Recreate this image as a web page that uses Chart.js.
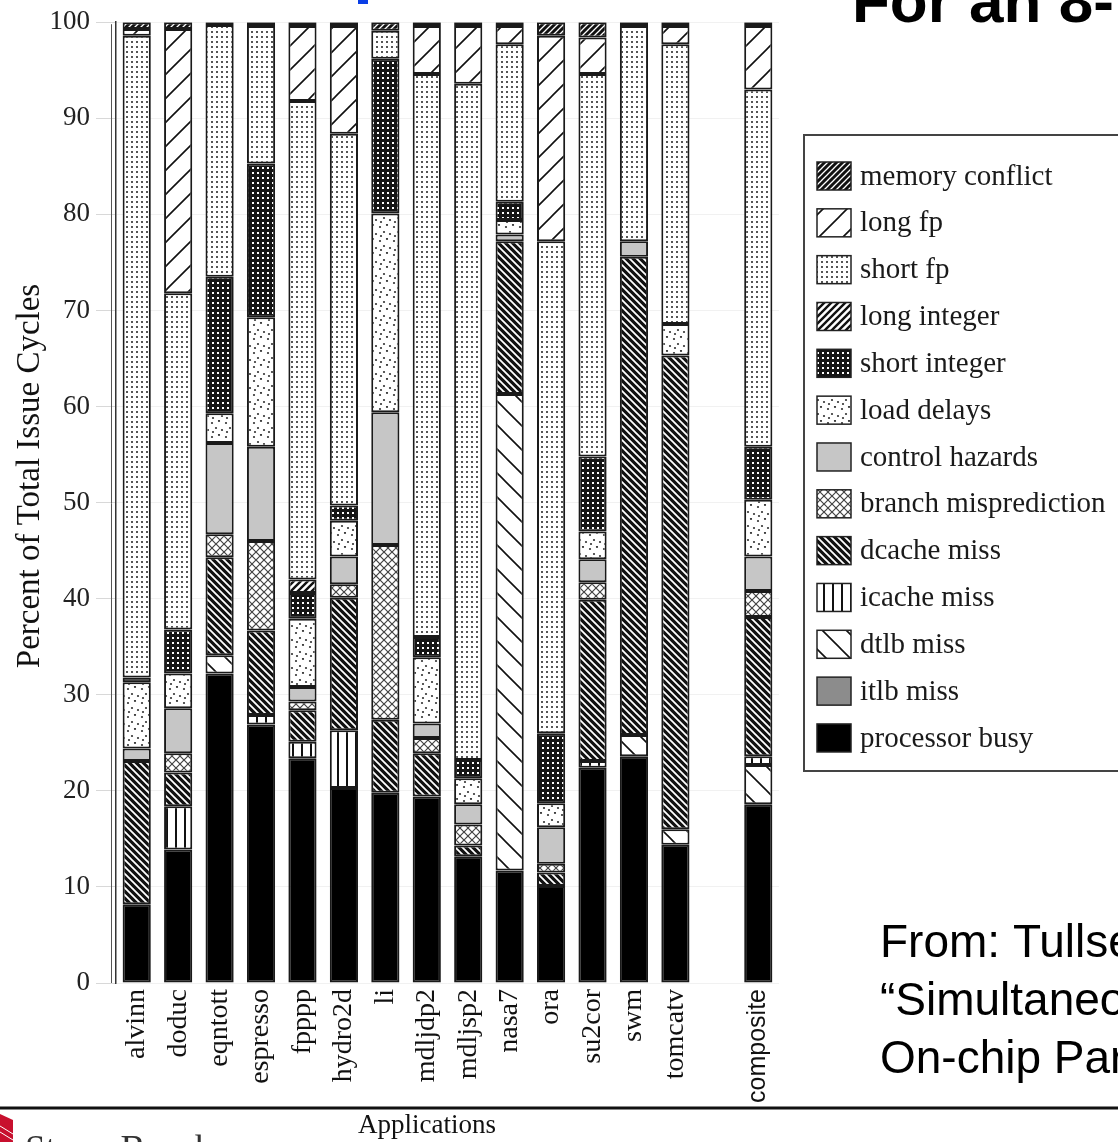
<!DOCTYPE html>
<html>
<head>
<meta charset="utf-8">
<script src="https://cdn.jsdelivr.net/npm/chart.js@4/dist/chart.umd.min.js"></script>
<style>
  body { margin: 0; background: #fff; overflow: hidden; }
  #wrap { width: 1118px; height: 1142px; }
</style>
</head>
<body>
<div id="wrap"><canvas id="stage" width="1118" height="1142"></canvas></div>
<script>
// categories (empty slot keeps the gap before composite)
var apps = ['alvinn','doduc','eqntott','espresso','fpppp','hydro2d','li','mdljdp2','mdljsp2','nasa7','ora','su2cor','swm','tomcatv','','composite'];

// percent of issue cycles, bottom of the stack first
var processorBusy = [8.2, 13.9, 32.2, 26.9, 23.4, 20.3, 19.8, 19.4, 13.2, 11.7, 10.1, 22.4, 23.6, 14.4, null, 18.6];
var itlbMiss      = [0, 0, 0, 0, 0, 0, 0, 0, 0, 0, 0, 0, 0, 0, null, 0];
var dtlbMiss      = [0, 0, 1.9, 0, 0, 0, 0, 0, 0, 49.6, 0, 0, 2.2, 1.6, null, 4.1];
var icacheMiss    = [0, 4.5, 0, 1.0, 1.7, 6.0, 0, 0, 0, 0, 0, 0.7, 0, 0, null, 0.9];
var dcacheMiss    = [14.9, 3.5, 10.2, 8.8, 3.3, 13.8, 7.6, 4.5, 1.1, 15.9, 1.4, 16.8, 49.8, 49.3, null, 14.5];
var branchMisp    = [0, 2.0, 2.4, 9.3, 0.9, 1.4, 18.2, 1.6, 2.2, 0, 0.9, 1.8, 0, 0, null, 2.7];
var controlHaz    = [1.3, 4.7, 9.5, 9.8, 1.5, 2.9, 13.8, 1.5, 2.1, 0.7, 3.8, 2.4, 1.6, 0, null, 3.6];
var loadDelays    = [6.9, 3.6, 3.1, 13.5, 7.1, 3.7, 20.7, 6.9, 2.7, 1.5, 2.5, 2.9, 0, 3.3, null, 5.9];
var shortInt      = [0.5, 4.6, 14.2, 16.0, 2.7, 1.6, 16.1, 2.1, 1.9, 1.9, 7.3, 7.8, 0, 0, null, 5.5];
var longInt       = [0, 0, 0, 0, 1.4, 0, 0, 0, 0, 0, 0, 0, 0, 0, null, 0];
var shortFp       = [66.8, 35.0, 26.2, 14.3, 49.8, 38.7, 2.9, 58.6, 70.4, 16.4, 51.2, 39.8, 22.4, 29.1, null, 37.2];
var longFp        = [0.7, 27.5, 0, 0, 7.8, 11.2, 0, 5.0, 6.0, 1.9, 21.4, 3.8, 0, 1.9, null, 6.6];
var memConflict   = [0.7, 0.7, 0.3, 0.4, 0.4, 0.4, 0.9, 0.4, 0.4, 0.4, 1.4, 1.6, 0.4, 0.4, null, 0.4];

var yTicks = [0, 10, 20, 30, 40, 50, 60, 70, 80, 90, 100];

var serif = "'Liberation Serif', 'Times New Roman', serif";
var sans = "'Liberation Sans', Arial, sans-serif";

// --- fill patterns ---
function tile(size, draw) {
   var c = document.createElement('canvas');
   c.width = size; c.height = size;
   var x = c.getContext('2d');
   draw(x, size);
   return x.createPattern(c, 'repeat');
}
function slash(x, s, color, w) {   // "/" lines
   x.strokeStyle = color; x.lineWidth = w; x.beginPath();
   x.moveTo(-1, s + 1); x.lineTo(s + 1, -1);
   x.moveTo(-s / 2, s / 2); x.lineTo(s / 2, -s / 2);
   x.moveTo(s / 2, s * 1.5); x.lineTo(s * 1.5, s / 2);
   x.stroke();
}
function back(x, s, color, w) {    // "\" lines
   x.strokeStyle = color; x.lineWidth = w; x.beginPath();
   x.moveTo(-1, -1); x.lineTo(s + 1, s + 1);
   x.moveTo(s / 2, -s / 2); x.lineTo(s * 1.5, s / 2);
   x.moveTo(-s / 2, s / 2); x.lineTo(s / 2, s * 1.5);
   x.stroke();
}

var pMem = tile(6, function(x, s){ x.fillStyle = '#111'; x.fillRect(0,0,s,s); slash(x, s, '#fff', 1.3); });
var pLongFp = tile(24, function(x, s){ x.fillStyle = '#fff'; x.fillRect(0,0,s,s); slash(x, s, '#111', 1.6); });
var pShortFp = tile(5, function(x, s){ x.fillStyle = '#fff'; x.fillRect(0,0,s,s); x.fillStyle = '#555'; x.fillRect(1,1,2,2); });
var pLongInt = tile(7, function(x, s){ x.fillStyle = '#fff'; x.fillRect(0,0,s,s); slash(x, s, '#111', 2.4); });
var pShortInt = tile(5, function(x, s){ x.fillStyle = '#151515'; x.fillRect(0,0,s,s); x.fillStyle = '#fff'; x.fillRect(2,2,2,2); });
var pLoad = tile(14, function(x, s){
   x.fillStyle = '#fff'; x.fillRect(0,0,s,s); x.fillStyle = '#333';
   [[2,3],[9,1],[6,8],[12,10],[3,12]].forEach(function(d){ x.beginPath(); x.arc(d[0], d[1], 1.1, 0, Math.PI*2); x.fill(); });
});
var pBranch = tile(8, function(x, s){
   x.fillStyle = '#fff'; x.fillRect(0,0,s,s);
   slash(x, s, '#444', 1.2); back(x, s, '#444', 1.2);
});
var pDcache = tile(7, function(x, s){ x.fillStyle = '#111'; x.fillRect(0,0,s,s); back(x, s, '#fff', 1.8); });
var pIcache = tile(9, function(x, s){ x.fillStyle = '#fff'; x.fillRect(0,0,s,s); x.fillStyle = '#111'; x.fillRect(4,0,2,s); });
var pDtlb = tile(24, function(x, s){ x.fillStyle = '#fff'; x.fillRect(0,0,s,s); back(x, s, '#111', 1.6); });

var series = [
   { label: 'processor busy', data: processorBusy, fill: '#000' },
   { label: 'itlb miss', data: itlbMiss, fill: '#8c8c8c' },
   { label: 'dtlb miss', data: dtlbMiss, fill: pDtlb },
   { label: 'icache miss', data: icacheMiss, fill: pIcache },
   { label: 'dcache miss', data: dcacheMiss, fill: pDcache },
   { label: 'branch misprediction', data: branchMisp, fill: pBranch },
   { label: 'control hazards', data: controlHaz, fill: '#c6c6c6' },
   { label: 'load delays', data: loadDelays, fill: pLoad },
   { label: 'short integer', data: shortInt, fill: pShortInt },
   { label: 'long integer', data: longInt, fill: pLongInt },
   { label: 'short fp', data: shortFp, fill: pShortFp },
   { label: 'long fp', data: longFp, fill: pLongFp },
   { label: 'memory conflict', data: memConflict, fill: pMem }
];

var datasets = series.map(function(s){
   return {
      label: s.label,
      data: s.data,
      backgroundColor: s.fill,
      borderColor: '#1a1a1a',
      borderWidth: 2,
      borderSkipped: false,
      barPercentage: 0.68,
      categoryPercentage: 1
   };
});

// extra drawing: white page, titles, legend box, slide leftovers
var decor = {
   id: 'decor',
   beforeDraw: function(chart){
      var c = chart.ctx;
      c.save(); c.fillStyle = '#fff'; c.fillRect(0, 0, chart.width, chart.height); c.restore();
   },
   afterDraw: function(chart){
      var c = chart.ctx;
      var area = chart.chartArea;
      c.save();

      // second axis line
      c.strokeStyle = '#555'; c.lineWidth = 1;
      c.beginPath(); c.moveTo(area.left - 4.5, area.top + 2); c.lineTo(area.left - 4.5, area.bottom); c.stroke();

      // y title
      c.save();
      c.translate(30, 476); c.rotate(-Math.PI / 2);
      c.fillStyle = '#111'; c.font = '33px ' + serif;
      c.textAlign = 'center'; c.textBaseline = 'middle';
      c.fillText('Percent of Total Issue Cycles', 0, 0);
      c.restore();

      // legend box
      c.strokeStyle = '#444'; c.lineWidth = 2;
      c.strokeRect(804, 135, 330, 636);
      var rows = series.slice().reverse();
      c.font = '29px ' + serif; c.textBaseline = 'middle'; c.textAlign = 'left';
      rows.forEach(function(s, i){
         var y = 176 + i * 46.83;
         c.fillStyle = s.fill;
         c.fillRect(817, y - 14, 34, 28);
         c.strokeStyle = '#222'; c.lineWidth = 1.5;
         c.strokeRect(817, y - 14, 34, 28);
         c.fillStyle = '#1a1a1a';
         c.fillText(s.label, 860, y + 1);
      });

      // slide title fragments
      c.fillStyle = '#0a3ee6'; c.fillRect(358, 0, 10, 4);
      c.fillStyle = '#000'; c.font = 'bold 62px ' + sans; c.textBaseline = 'alphabetic';
      c.fillText('For an 8-issue processor', 852, 22);

      c.font = '46px ' + sans;
      c.fillText('From: Tullsen, Eggers, and Levy,', 880, 957);
      c.fillText('\u201cSimultaneous Multithreading:', 880, 1015);
      c.fillText('On-chip Parallelism\u201d', 880, 1073);

      // footer rule
      c.strokeStyle = '#111'; c.lineWidth = 3;
      c.beginPath(); c.moveTo(0, 1108); c.lineTo(1118, 1108); c.stroke();

      c.fillStyle = '#111'; c.font = '27px ' + serif;
      c.fillText('Applications', 358, 1133);

      // university mark
      c.fillStyle = '#c8102e';
      c.beginPath(); c.moveTo(0, 1114); c.lineTo(13, 1120); c.lineTo(13, 1142); c.lineTo(0, 1142); c.closePath(); c.fill();
      c.strokeStyle = '#fff'; c.lineWidth = 1;
      c.beginPath(); c.moveTo(0, 1126); c.lineTo(13, 1134); c.moveTo(0, 1132); c.lineTo(13, 1140); c.stroke();
      c.fillStyle = '#333'; c.font = '37px ' + serif;
      c.fillText('Stony Brook', 25, 1161);

      c.restore();
   }
};

var chart = new Chart(document.getElementById('stage'), {
   type: 'bar',
   data: { labels: apps, datasets: datasets },
   plugins: [decor],
   options: {
      responsive: false,
      devicePixelRatio: 1,
      animation: false,
      layout: { padding: { top: 17, right: 339, left: 0, bottom: 0 } },
      plugins: { legend: { display: false }, tooltip: { enabled: false } },
      scales: {
         x: {
            stacked: true,
            grid: { display: false, drawTicks: false },
            border: { display: false },
            afterFit: function(scale){ scale.height = 159; },
            ticks: {
               autoSkip: false,
               minRotation: 90,
               maxRotation: 90,
               padding: 6,
               color: '#111',
               font: function(ctx){
                  var lab = apps[ctx.index];
                  return lab === 'composite' ? { family: sans, size: 25 } : { family: serif, size: 28 };
               }
            }
         },
         y: {
            stacked: true,
            min: 0,
            max: 100,
            afterFit: function(scale){ scale.width = 116; },
            afterBuildTicks: function(scale){ scale.ticks = yTicks.map(function(v){ return { value: v }; }); },
            grid: { color: '#f1f1f1', tickColor: '#d8d8d8', tickLength: 20 },
            border: { color: '#333', width: 1.5 },
            ticks: { padding: 6, color: '#222', font: { family: serif, size: 27 } }
         }
      }
   }
});
</script>
</body>
</html>
